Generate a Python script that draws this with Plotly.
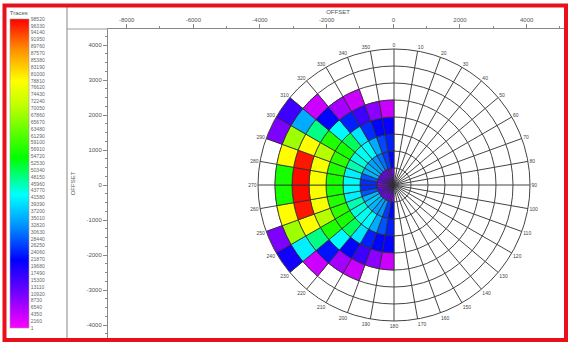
import plotly.graph_objects as go

W, H = 568, 345

# Azimuth sectors (start angle, degrees clockwise from north) and offset bins
azimuth_start = [180, 190, 200, 210, 220, 230, 240, 250, 260,
                 270, 280, 290, 300, 310, 320, 330, 340, 350]
offset_edges = [0, 500, 1000, 1500, 2000, 2500, 3000, 3500, 4000]

# Trace counts per offset bin, one value per azimuth sector (None = empty bin)
fold_0000_0500 = [10000, 11000, 11000, 11000, 11000, 12000, 12000, 11000, 9000,
                  9000, 11000, 12000, 12000, 11000, 11000, 11000, 11000, 10000]
fold_0500_1000 = [22000, 26000, 33000, 34000, 36000, 38000, 36000, 28000, 25000,
                  25000, 28000, 36000, 36000, 34000, 33000, 30000, 26000, 22000]
fold_1000_1500 = [24000, 28000, 35000, 42000, 43000, 44000, 46000, 41000, 42000,
                  42000, 41000, 46000, 44000, 43000, 42000, 35000, 27000, 24000]
fold_1500_2000 = [21000, 22000, 24000, 40000, 50000, 56000, 58000, 57000, 56000,
                  56000, 57000, 58000, 56000, 50000, 40000, 25000, 22000, 21000]
fold_2000_2500 = [4000, 9000, 16000, 22000, 42000, 57000, 70000, 78000, 78000,
                  78000, 78000, 70000, 57000, 42000, 24000, 16000, 9000, 4000]
fold_2500_3000 = [None, None, 4000, 7000, 23000, 48000, 79000, 97000, 98000,
                  98000, 97000, 79000, 48000, 22000, 7000, 4000, None, None]
fold_3000_3500 = [None, None, None, None, 4000, 41000, 68000, 79000, 56000,
                  56000, 79000, 68000, 35000, 4000, None, None, None, None]
fold_3500_4000 = [None, None, None, None, None, 20000, 10000, None, None,
                  None, None, 10000, 16000, None, None, None, None, None]

fold_rows = [fold_0000_0500, fold_0500_1000, fold_1000_1500, fold_1500_2000,
             fold_2000_2500, fold_2500_3000, fold_3000_3500, fold_3500_4000]

# Colour bar labels (top to bottom)
trace_ticks = [98520, 96330, 94140, 91950, 89760, 87570, 85380, 83190, 81000,
               78810, 76620, 74430, 72240, 70050, 67860, 65670, 63480, 61290,
               59100, 56910, 54720, 52530, 50340, 48150, 45960, 43770, 41580,
               39390, 37200, 35010, 32820, 30630, 28440, 26250, 24060, 21870,
               19680, 17490, 15300, 13110, 10920, 8730, 6540, 4350, 2160, 1]
fold_min, fold_max = 1, 98520

x_ticks = [-8000, -6000, -4000, -2000, 0, 2000, 4000]
y_ticks = [4000, 3000, 2000, 1000, 0, -1000, -2000, -3000, -4000]

rainbow = [[0.0, "#ff00ff"], [0.1, "#8000ff"], [0.22, "#0000ff"],
           [0.33, "#0090ff"], [0.43, "#00ffff"], [0.55, "#00ff00"],
           [0.72, "#c0ff00"], [0.8, "#ffff00"], [0.9, "#ff9000"],
           [1.0, "#ff0000"]]


def px(x):
    return x / W


def py(y):
    return 1 - y / H


theta, radius, base, values = [], [], [], []
for k, row in enumerate(fold_rows):
    for az, v in zip(azimuth_start, row):
        if v is None:
            continue
        theta.append(az + 5)
        base.append(offset_edges[k])
        radius.append(offset_edges[k + 1] - offset_edges[k])
        values.append(v)

fig = go.Figure()

# invisible trace that carries the cartesian offset axes
fig.add_trace(go.Scatter(x=[None], y=[None], showlegend=False,
                         hoverinfo="skip", xaxis="x", yaxis="y"))

fig.add_trace(go.Barpolar(
    theta=theta, r=radius, base=base, width=10,
    marker=dict(
        color=values, colorscale=rainbow, cmin=fold_min, cmax=fold_max,
        line=dict(color="#303030", width=0.8),
        showscale=True,
        colorbar=dict(
            x=px(10), xanchor="left", y=py(8), yanchor="top",
            thickness=19, thicknessmode="pixels",
            len=320, lenmode="pixels", xpad=0, ypad=0,
            outlinewidth=0.6, outlinecolor="#999",
            tickvals=trace_ticks, ticktext=[str(t) for t in trace_ticks],
            ticks="", tickfont=dict(size=5, color="#666",
                                    family="Liberation Sans"),
            title=dict(text="Traces", side="top",
                       font=dict(size=6, color="#555",
                                 family="Liberation Sans")),
        ),
    ),
    showlegend=False, hoverinfo="skip",
))

# polar area: centre at (394, 185) px, radius 136 px
cx, cy, R = 394, 185, 136
axis_font = dict(size=6, color="#555", family="Liberation Sans")

fig.update_layout(
    width=W, height=H,
    margin=dict(l=0, r=0, t=0, b=0),
    paper_bgcolor="white", plot_bgcolor="white",
    polar=dict(
        domain=dict(x=[px(cx - R), px(cx + R)], y=[py(cy + R), py(cy - R)]),
        bgcolor="rgba(0,0,0,0)",
        angularaxis=dict(
            rotation=90, direction="clockwise",
            tickvals=list(range(0, 360, 10)),
            ticktext=[str(a) for a in range(0, 360, 10)],
            tickfont=dict(size=5, color="#444", family="Liberation Sans"),
            ticks="", showline=True, linecolor="#444", linewidth=1,
            gridcolor="#444", gridwidth=0.7,
        ),
        radialaxis=dict(
            range=[0, 4000], dtick=500, showticklabels=False, ticks="",
            showline=False, gridcolor="#444", gridwidth=0.7,
        ),
    ),
    xaxis=dict(
        domain=[px(108), 1], range=[(108 - 393.3) * 30, (568 - 393.3) * 30],
        side="top", anchor="y", showgrid=False, zeroline=False,
        showline=True, linecolor="#888", linewidth=1,
        ticks="outside", ticklen=4, tickcolor="#888",
        tickvals=x_ticks, ticktext=[str(t) for t in x_ticks],
        tickfont=axis_font, automargin=False,
        minor=dict(ticks="outside", ticklen=2, tickcolor="#888",
                   tickvals=[-7000, -5000, -3000, -1000, 1000, 3000, 5000]),
        title=dict(text="OFFSET", font=axis_font, standoff=1),
    ),
    yaxis=dict(
        domain=[py(338), py(29)], range=[(185 - 338) / 0.035, (185 - 29) / 0.035],
        side="left", anchor="x", showgrid=False, zeroline=False,
        showline=True, linecolor="#888", linewidth=1,
        ticks="outside", ticklen=4, tickcolor="#888",
        tickvals=y_ticks, ticktext=[str(t) for t in y_ticks],
        tickfont=axis_font, automargin=False,
        minor=dict(ticks="outside", ticklen=2, tickcolor="#888", dtick=250),
        title=dict(text="OFFSET", font=axis_font, standoff=10),
    ),
    shapes=[
        # panel separators
        dict(type="line", xref="paper", yref="paper",
             x0=px(67), x1=px(67), y0=py(7), y1=py(338),
             line=dict(color="#999", width=1.2)),
        dict(type="line", xref="paper", yref="paper",
             x0=px(67), x1=px(108), y0=py(29), y1=py(29),
             line=dict(color="#999", width=1)),
        # outer red frame
        dict(type="rect", xref="paper", yref="paper",
             x0=px(4.5), x1=px(566), y0=py(5.5), y1=py(340),
             line=dict(color="#e8101a", width=4)),
    ],
)

fig.write_html("out.html")
